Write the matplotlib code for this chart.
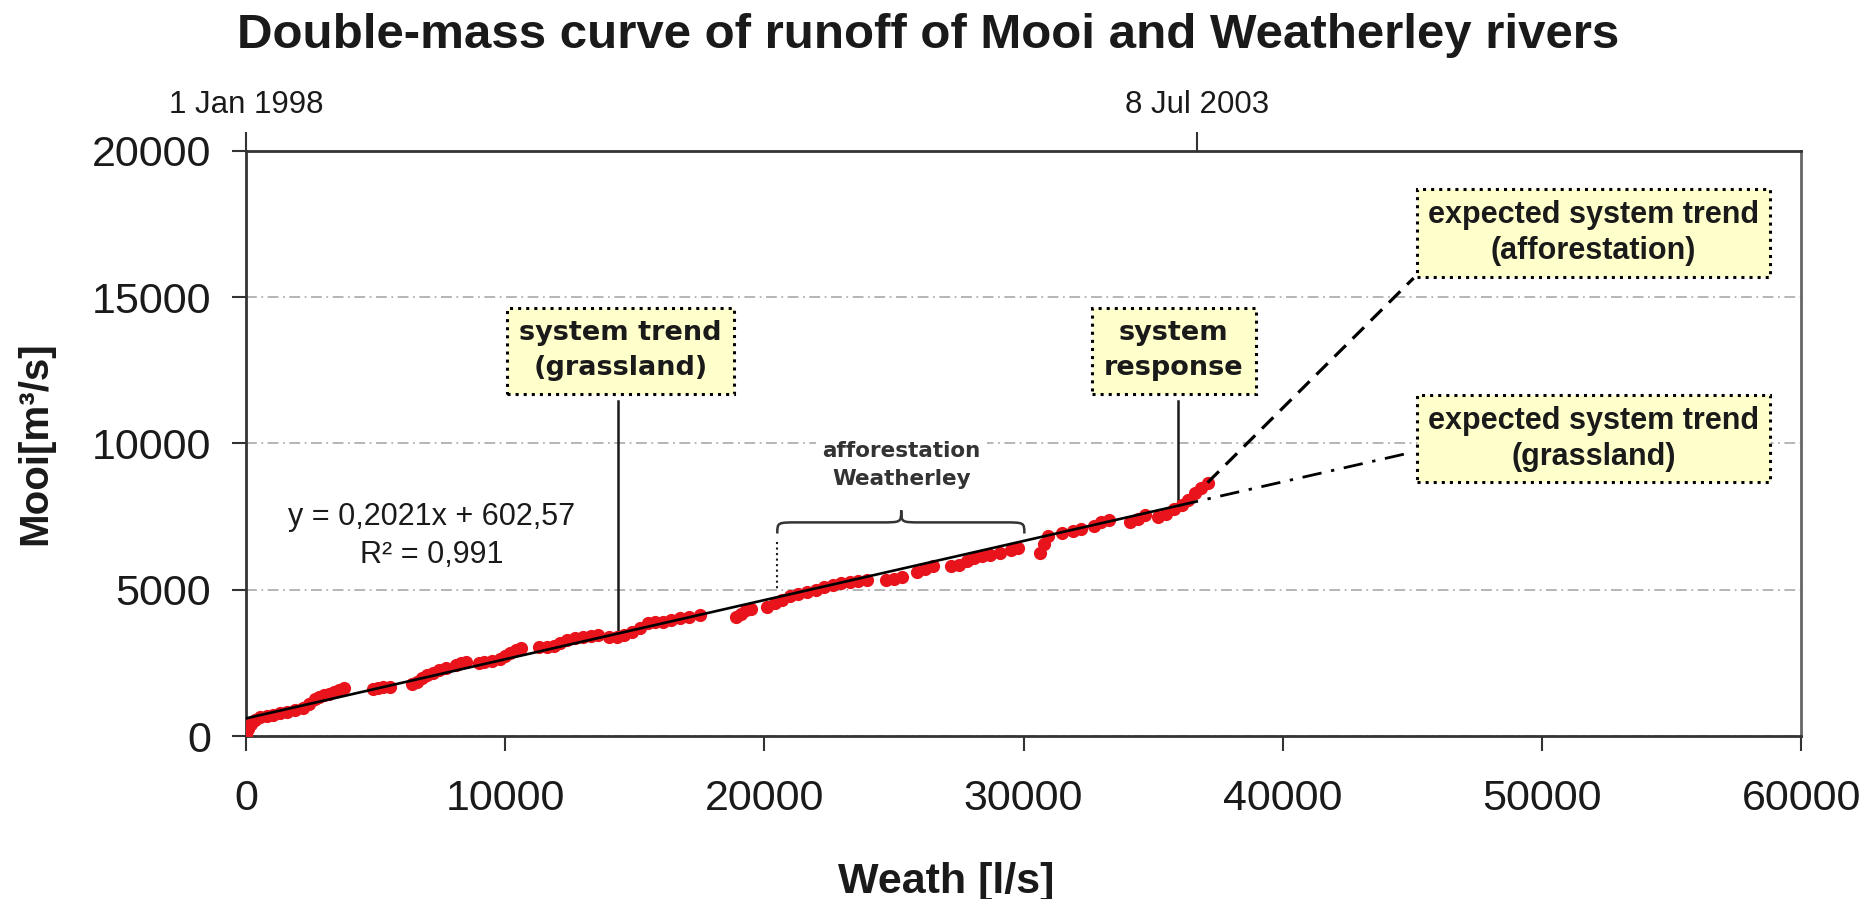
import numpy as np
import matplotlib.pyplot as plt
from matplotlib.path import Path
from matplotlib.patches import PathPatch

plt.rcParams['font.family'] = ['Liberation Sans', 'DejaVu Sans']

# cumulative runoff, Weatherley (x) vs Mooi (y)
weath = [0, 80, 200, 350, 550, 800, 1050, 1300, 1600, 1900, 2200, 2450, 2650, 2800,
         3000, 3200, 3400, 3600, 3800,
         4900, 5100, 5300, 5550,
         6400, 6600, 6800, 7000, 7200, 7450, 7700,
         8100, 8300, 8500,
         9000, 9200, 9500, 9800, 10000, 10200, 10400, 10600,
         11300, 11600, 11900, 12100, 12400, 12700, 13000, 13300, 13600,
         14000, 14300, 14600, 14900, 15200, 15500, 15800, 16100, 16400, 16750, 17100, 17500,
         18900, 19100, 19300, 19500,
         20100, 20400, 20700, 21000, 21300, 21650, 22000, 22300, 22650, 22950, 23300, 23600, 23950,
         24700, 25000, 25300,
         25900, 26200, 26500,
         27200, 27500, 27800, 28100, 28400, 28700, 29100, 29500, 29800,
         30650, 30800, 30950,
         31500, 31900, 32200,
         32700, 33000, 33300,
         34100, 34400, 34700,
         35200, 35500, 35800, 36100, 36350, 36600, 36850, 37100]
mooi = [50, 250, 420, 560, 660, 700, 720, 780, 830, 880, 960, 1080, 1250, 1330,
        1400, 1450, 1500, 1580, 1640,
        1600, 1640, 1660, 1690,
        1780, 1830, 1980, 2080, 2150, 2250, 2330,
        2420, 2500, 2530,
        2500, 2540, 2580, 2620, 2720, 2850, 2950, 3020,
        3030, 3050, 3090, 3180, 3280, 3350, 3390, 3420, 3450,
        3400, 3390, 3450, 3560, 3700, 3850, 3880, 3900, 3960, 4020, 4080, 4130,
        4080, 4180, 4300, 4330,
        4420, 4560, 4660, 4780, 4850, 4910, 4990, 5080, 5150, 5220, 5260, 5310, 5330,
        5330, 5380, 5420,
        5620, 5700, 5820,
        5800, 5850, 5990, 6080, 6140, 6180, 6260, 6340, 6430,
        6270, 6550, 6850,
        6950, 7020, 7080,
        7190, 7300, 7370,
        7320, 7420, 7540,
        7480, 7600, 7760, 7900, 8070, 8300, 8480, 8660]

slope, intercept = 0.2021, 602.57
fit_end = 36000
grass_end = 44930
affor_line_x = [37100, 45050]
affor_line_y = [8660, 15650]

x_ticks = [0, 10000, 20000, 30000, 40000, 50000, 60000]
y_ticks = [0, 5000, 10000, 15000, 20000]
top_ticks = [0, 36700]
top_labels = ['1 Jan 1998', '8 Jul 2003']

dark = '#1a1a1a'
box_style = dict(boxstyle='square,pad=0.35', fc='#ffffcc', ec='black', ls=':', lw=2.2)

fig = plt.figure(figsize=(18.76, 8.99), dpi=100)
ax = fig.add_axes([0.1311, 0.1813, 0.829, 0.651])

ax.plot(weath, mooi, 'o', color='#e8131b', ms=9.5, mec='none', zorder=3)

xf = np.array([0, fit_end])
ax.plot(xf, slope * xf + intercept, color='black', lw=1.9, zorder=4)
xg = np.array([fit_end, grass_end])
ax.plot(xg, slope * xg + intercept, color='black', lw=2.0,
        linestyle=(0, (7, 3.5, 1.2, 3.5)), zorder=4)
ax.plot(affor_line_x, affor_line_y, color='black', lw=2.3, linestyle=(0, (5, 3)), zorder=4)

ax.set_xlim(0, 60000)
ax.set_ylim(0, 20000)
ax.set_xticks(x_ticks)
ax.set_yticks(y_ticks)
ax.tick_params(axis='both', direction='out', width=1.5, colors='#333333',
               labelsize=31, labelcolor=dark)
ax.tick_params(axis='x', length=11, pad=20)
ax.tick_params(axis='y', length=10, pad=15)
ax.yaxis.grid(True, color='#b0b0b0', lw=1.3, linestyle=(0, (6, 2.5, 1, 2.5)))
for s in ax.spines.values():
    s.set_color('#333333')
    s.set_linewidth(2)
ax.spines['right'].set_color('#666666')

sec = ax.secondary_xaxis('top')
sec.set_xticks(top_ticks, top_labels)
sec.tick_params(direction='out', length=14, width=1.5, pad=8, labelsize=22.5,
                colors='#333333', labelcolor=dark)
sec.spines['top'].set_visible(False)

ax.set_xlabel('Weath [l/s]', fontsize=31, fontweight='bold', color=dark)
ax.xaxis.set_label_coords(0.45, -0.215)
ax.set_ylabel('Mooi[m³/s]', fontsize=29, fontweight='bold', color=dark)
ax.yaxis.set_label_coords(-0.123, 0.5)
fig.text(0.495, 0.96, 'Double-mass curve of runoff of Mooi and Weatherley rivers',
         ha='center', va='center', fontsize=35.5, fontweight='bold', color=dark)

# equation of the fit
ax.text(7180, 7500, 'y = 0,2021x + 602,57', ha='center', va='center', fontsize=22, color=dark)
ax.text(7180, 6170, 'R² = 0,991', ha='center', va='center', fontsize=22, color=dark)

# labelled boxes with pointer lines
small_box = dict(boxstyle='square,pad=0.45', fc='#ffffcc', ec='black', ls=':', lw=2.2)
ax.text(14450, 13160, 'system trend\n(grassland)', ha='center', va='center', fontsize=19.5,
        fontweight='bold', family=['DejaVu Sans'], color=dark, bbox=small_box,
        linespacing=1.45, zorder=5)
ax.plot([14350, 14350], [11450, 3550], color=dark, lw=1.8)

ax.text(35800, 13160, 'system\nresponse', ha='center', va='center', fontsize=19.5,
        fontweight='bold', family=['DejaVu Sans'], color=dark, bbox=small_box,
        linespacing=1.45, zorder=5)
ax.plot([35940, 35940], [11450, 7900], color=dark, lw=1.8)

ax.text(51990, 17190, 'expected system trend\n(afforestation)', ha='center', va='center',
        fontsize=22, fontweight='bold', color=dark, bbox=box_style, linespacing=1.25, zorder=5)
ax.text(51990, 10160, 'expected system trend\n(grassland)', ha='center', va='center',
        fontsize=22, fontweight='bold', color=dark, bbox=box_style, linespacing=1.25, zorder=5)

# afforestation period brace
ax.text(25280, 9250, 'afforestation\nWeatherley', ha='center', va='center', fontsize=15.5,
        fontweight='bold', family=['DejaVu Sans'], color='#333333', linespacing=1.5,
        bbox=dict(boxstyle='square,pad=0.3', fc='white', ec='none'), zorder=2)
verts = [(20500, 6920), (20500, 7300), (20500, 7300), (21300, 7300),
         (24500, 7300),
         (25280, 7300), (25280, 7300), (25280, 7710),
         (25280, 7300), (25280, 7300), (26060, 7300),
         (29230, 7300),
         (30030, 7300), (30030, 7300), (30030, 6920)]
codes = [Path.MOVETO, Path.CURVE4, Path.CURVE4, Path.CURVE4,
         Path.LINETO,
         Path.CURVE4, Path.CURVE4, Path.CURVE4,
         Path.CURVE4, Path.CURVE4, Path.CURVE4,
         Path.LINETO,
         Path.CURVE4, Path.CURVE4, Path.CURVE4]
ax.add_patch(PathPatch(Path(verts, codes), fc='none', ec='#333333', lw=1.8))
ax.plot([20500, 20500], [6620, 4980], color=dark, lw=1.5, linestyle=':')

fig.savefig('out.png', dpi=100, facecolor='white')
